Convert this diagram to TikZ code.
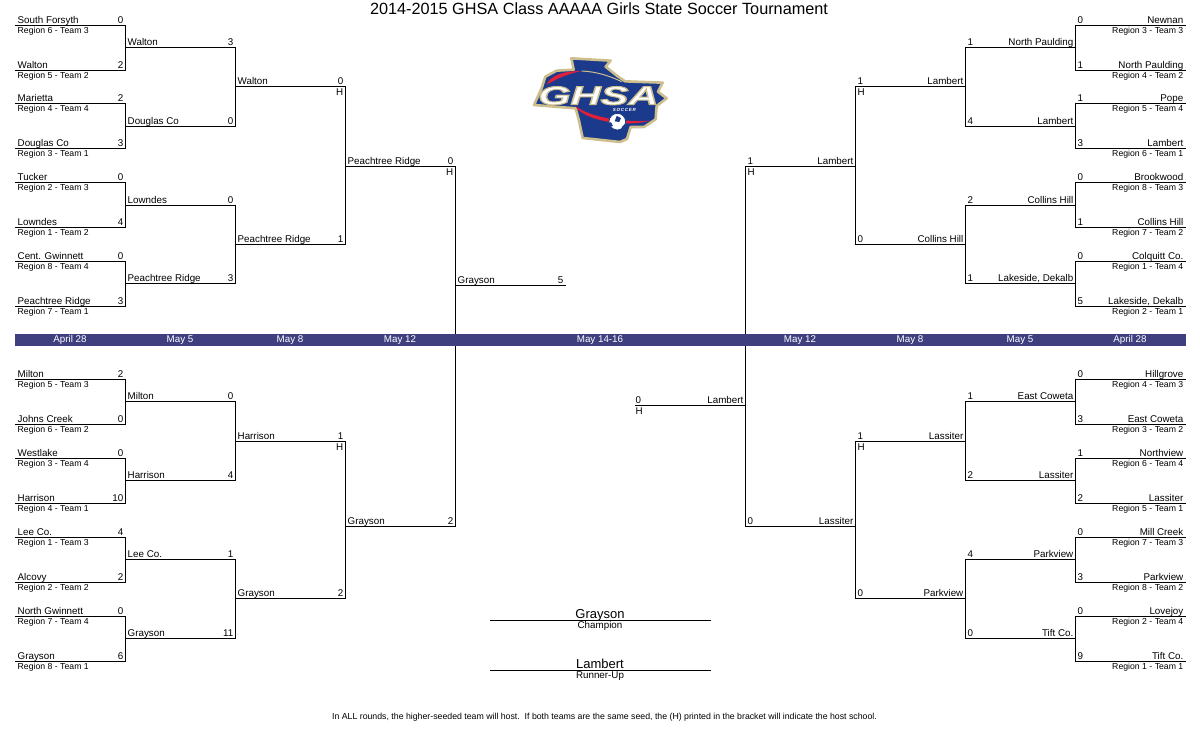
\documentclass[tikz,border=0pt]{standalone}
\usepackage{fontspec}
\setmainfont{Liberation Sans}
\usepackage{tikz}
\definecolor{bandblue}{HTML}{3F3F7F}
\definecolor{logonavy}{HTML}{1B3A8C}
\definecolor{logogold}{HTML}{CDBE8E}
\definecolor{logored}{HTML}{E0203A}
\tikzset{
  bracket/.style={line width=1pt,line cap=rect},
  teamname/.style={inner sep=0pt,font=\fontsize{9.8}{9.8}\selectfont},
  regionname/.style={inner sep=0pt,font=\fontsize{8.7}{8.7}\selectfont},
  resultlabel/.style={inner sep=0pt,anchor=base,font=\fontsize{9.8}{9.8}\selectfont},
  resultname/.style={inner sep=0pt,anchor=base,font=\fontsize{13}{13}\selectfont},
  datelabel/.style={inner sep=0pt,text=white,font=\fontsize{9.8}{9.8}\selectfont},
  westname/.style={teamname,anchor=base west},
  eastname/.style={teamname,anchor=base east},
}
\begin{document}
\begin{tikzpicture}[x=1pt,y=-1pt]
  \useasboundingbox (0,0) rectangle (1200,750);
  % left half, first round
  \foreach \slot/\xa/\y/\team/\region/\score in {
    a1/15.5/25.5/South Forsyth/Region 6 - Team 3/0, a2/15.5/70.5/Walton/Region 5 - Team 2/2,
    a3/15.5/103.5/Marietta/Region 4 - Team 4/2, a4/15.5/148.5/Douglas Co/Region 3 - Team 1/3,
    a5/15.5/182.5/Tucker/Region 2 - Team 3/0, a6/15.5/227.5/Lowndes/Region 1 - Team 2/4,
    a7/15.5/261.5/Cent. Gwinnett/Region 8 - Team 4/0, a8/15.5/306.5/Peachtree Ridge/Region 7 - Team 1/3,
    a9/15.5/379.5/Milton/Region 5 - Team 3/2, a10/15.5/424.5/Johns Creek/Region 6 - Team 2/0,
    a11/15.5/458.5/Westlake/Region 3 - Team 4/0, a12/15.5/503.5/Harrison/Region 4 - Team 1/10,
    a13/15.5/537.5/Lee Co./Region 1 - Team 3/4, a14/15.5/582.5/Alcovy/Region 2 - Team 2/2,
    a15/15.5/616.5/North Gwinnett/Region 7 - Team 4/0, a16/15.5/661.5/Grayson/Region 8 - Team 1/6} {
    \coordinate (\slot-s) at (\xa,\y);
    \coordinate (\slot-e) at (\xa+110,\y);
    \draw[bracket] (\slot-s) -- (\slot-e);
    \node[westname] (\slot-team) at ([shift={(2,-2.2)}]\slot-s) {\team};
    \node[eastname] (\slot-score) at ([shift={(-2,-2.2)}]\slot-e) {\score};
    \node[regionname,anchor=base west] (\slot-region) at ([shift={(2,8)}]\slot-s) {\region};
  }
  % left half, later rounds
  \foreach \slot/\xa/\y/\team/\score in {
    b1/125.5/47.5/Walton/3, b2/125.5/126.5/Douglas Co/0, b3/125.5/205.5/Lowndes/0, b4/125.5/283.5/Peachtree Ridge/3,
    b5/125.5/401.5/Milton/0, b6/125.5/480.5/Harrison/4, b7/125.5/559.5/Lee Co./1, b8/125.5/638.5/Grayson/11,
    c1/235.5/86.5/Walton/0, c2/235.5/244.5/Peachtree Ridge/1, c3/235.5/441.5/Harrison/1, c4/235.5/598.5/Grayson/2,
    d1/345.5/166.5/Peachtree Ridge/0, d2/345.5/526.5/Grayson/2, f1/455.5/285.5/Grayson/5} {
    \coordinate (\slot-s) at (\xa,\y);
    \coordinate (\slot-e) at (\xa+110,\y);
    \draw[bracket] (\slot-s) -- (\slot-e);
    \node[westname] (\slot-team) at ([shift={(2,-2.2)}]\slot-s) {\team};
    \node[eastname] (\slot-score) at ([shift={(-2,-2.2)}]\slot-e) {\score};
  }
  \foreach \one/\two in {a1/a2,a3/a4,a5/a6,a7/a8,a9/a10,a11/a12,a13/a14,a15/a16,
    b1/b2,b3/b4,b5/b6,b7/b8,c1/c2,c3/c4,d1/d2}
    \draw[bracket] (\one-e) -- (\two-e);
  \foreach \slot in {c1,c3,d1}
    \node[eastname] (\slot-host) at ([shift={(-2,9)}]\slot-e) {H};
  % right half, first round
  \foreach \slot/\xa/\y/\team/\region/\score in {
    p1/1075.5/25.5/Newnan/Region 3 - Team 3/0, p2/1075.5/70.5/North Paulding/Region 4 - Team 2/1,
    p3/1075.5/103.5/Pope/Region 5 - Team 4/1, p4/1075.5/148.5/Lambert/Region 6 - Team 1/3,
    p5/1075.5/182.5/Brookwood/Region 8 - Team 3/0, p6/1075.5/227.5/Collins Hill/Region 7 - Team 2/1,
    p7/1075.5/261.5/Colquitt Co./Region 1 - Team 4/0, p8/1075.5/306.5/{Lakeside, Dekalb}/Region 2 - Team 1/5,
    p9/1075.5/379.5/Hillgrove/Region 4 - Team 3/0, p10/1075.5/424.5/East Coweta/Region 3 - Team 2/3,
    p11/1075.5/458.5/Northview/Region 6 - Team 4/1, p12/1075.5/503.5/Lassiter/Region 5 - Team 1/2,
    p13/1075.5/537.5/Mill Creek/Region 7 - Team 3/0, p14/1075.5/582.5/Parkview/Region 8 - Team 2/3,
    p15/1075.5/616.5/Lovejoy/Region 2 - Team 4/0, p16/1075.5/661.5/Tift Co./Region 1 - Team 1/9} {
    \coordinate (\slot-s) at (\xa,\y);
    \coordinate (\slot-e) at (\xa+110,\y);
    \draw[bracket] (\slot-s) -- (\slot-e);
    \node[eastname] (\slot-team) at ([shift={(-2,-2.2)}]\slot-e) {\team};
    \node[westname] (\slot-score) at ([shift={(2,-2.2)}]\slot-s) {\score};
    \node[regionname,anchor=base east] (\slot-region) at ([shift={(-2,8)}]\slot-e) {\region};
  }
  % right half, later rounds
  \foreach \slot/\xa/\y/\team/\score in {
    q1/965.5/47.5/North Paulding/1, q2/965.5/126.5/Lambert/4, q3/965.5/205.5/Collins Hill/2, q4/965.5/283.5/{Lakeside, Dekalb}/1,
    q5/965.5/401.5/East Coweta/1, q6/965.5/480.5/Lassiter/2, q7/965.5/559.5/Parkview/4, q8/965.5/638.5/Tift Co./0,
    r1/855.5/86.5/Lambert/1, r2/855.5/244.5/Collins Hill/0, r3/855.5/441.5/Lassiter/1, r4/855.5/598.5/Parkview/0,
    s1/745.5/166.5/Lambert/1, s2/745.5/526.5/Lassiter/0} {
    \coordinate (\slot-s) at (\xa,\y);
    \coordinate (\slot-e) at (\xa+110,\y);
    \draw[bracket] (\slot-s) -- (\slot-e);
    \node[eastname] (\slot-team) at ([shift={(-2,-2.2)}]\slot-e) {\team};
    \node[westname] (\slot-score) at ([shift={(2,-2.2)}]\slot-s) {\score};
  }
  \foreach \one/\two in {p1/p2,p3/p4,p5/p6,p7/p8,p9/p10,p11/p12,p13/p14,p15/p16,
    q1/q2,q3/q4,q5/q6,q7/q8,r1/r2,r3/r4,s1/s2}
    \draw[bracket] (\one-s) -- (\two-s);
  \foreach \slot in {r1,r3,s1}
    \node[westname] (\slot-host) at ([shift={(2,9)}]\slot-s) {H};
  % runner-up slot, its score sits flush with the line start
  \coordinate (f2-s) at (635.5,405.5);
  \coordinate (f2-e) at (745.5,405.5);
  \draw[bracket] (f2-s) -- (f2-e);
  \node[eastname] (f2-team) at ([shift={(-2,-2.2)}]f2-e) {Lambert};
  \node[westname] (f2-score) at ([shift={(0,-2.2)}]f2-s) {0};
  \node[westname] (f2-host) at ([shift={(0,9)}]f2-s) {H};
  % date band goes over the long verticals
  \fill[bandblue] (15,334) rectangle (1186,346);
  \foreach \xpos/\date/\id in {70/April 28/1,180/May 5/2,290/May 8/3,400/May 12/4,600/May 14-16/5,
    800/May 12/6,910/May 8/7,1020/May 5/8,1130/April 28/9}
    \node[datelabel] (date\id) at (\xpos,340) {\date};
  % title, result lines, footnote
  \node[inner sep=0pt,font=\fontsize{16.25}{16.25}\selectfont] (title) at (599,9) {2014-2015 GHSA Class AAAAA Girls State Soccer Tournament};
  \coordinate (champ-s) at (490,620.5);
  \coordinate (champ-e) at (710.5,620.5);
  \coordinate (runner-s) at (490,670.5);
  \coordinate (runner-e) at (710.5,670.5);
  \draw[bracket] (champ-s) -- (champ-e);
  \draw[bracket] (runner-s) -- (runner-e);
  \node[resultname] (champ) at (600,618) {Grayson};
  \node[resultlabel] (champlabel) at (600,628.5) {Champion};
  \node[resultname] (runner) at (600,668) {Lambert};
  \node[resultlabel] (runnerlabel) at (600,678.5) {Runner-Up};
  \node[inner sep=0pt,font=\fontsize{8.75}{8.75}\selectfont] (note) at (604.5,717) {In ALL rounds, the higher-seeded team will host.\ \ If both teams are the same seed, the (H) printed in the bracket will indicate the host school.};
  % logo, in units of the 3x crop
  \begin{scope}[shift={(510,40)},x=.3333pt,y=-.3333pt]
    \fill[logonavy,draw=logogold,line width=2.6pt,line join=round]
      (184,55) -- (302,62) -- (287,80) -- (322,108) -- (345,124) -- (458,128) -- (444,155) -- (470,175)
      -- (440,198) -- (437,238) -- (402,261) -- (362,261) -- (351,297) -- (330,306) -- (218,294)
      -- (207,242) -- (197,205) -- (72,195) -- (96,142) -- (106,110) -- (140,92) -- (191,89) -- cycle;
    \fill[logored] (110,134) .. controls (122,106) and (160,93) .. (215,93)
      .. controls (170,102) and (142,116) .. (110,134);
    \draw[logogold,line width=1pt] (215,93) .. controls (260,95) and (300,108) .. (335,125);
    \fill[logored] (196,198) .. controls (212,234) and (330,266) .. (422,242)
      .. controls (340,248) and (240,232) .. (196,198);
    \node[inner sep=0pt,text=white,xscale=1.6,transform shape,font=\fontsize{26}{26}\selectfont\bfseries\itshape] (logotext) at (265,167)
      {\special{pdf:code 2 Tr 1 w 0.80 0.74 0.55 RG}GHSA\special{pdf:code 0 Tr 0 w}};
    \node[inner sep=0pt,text=white,font=\fontsize{4.5}{4.5}\selectfont\bfseries\itshape] (logosub) at (343,210) {S\,O\,C\,C\,E\,R};
    \fill[white,draw=logonavy,line width=.8pt] (322,245) circle (25);
    \fill[logonavy] (320,228) -- (333,234) -- (328,246) -- (314,244) -- cycle;
    \fill[logonavy] (303,246) -- (309,258) -- (302,260) -- (298,250) -- cycle;
    \fill[logonavy] (335,262) -- (344,252) -- (345,258) -- (338,266) -- cycle;
  \end{scope}
\end{tikzpicture}
\end{document}
